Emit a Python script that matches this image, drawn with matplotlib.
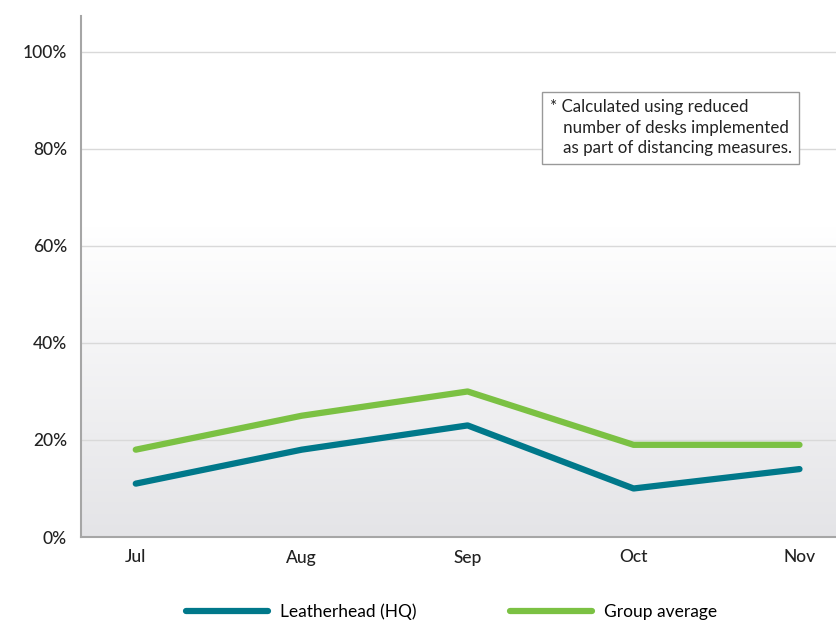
import matplotlib
matplotlib.use('Agg')
import matplotlib.pyplot as plt
import numpy as np

months = ['Jul', 'Aug', 'Sep', 'Oct', 'Nov']
leatherhead = [11, 18, 23, 10, 14]
group_avg = [18, 25, 30, 19, 19]
y_ticks = [0, 20, 40, 60, 80, 100]
note = '* Calculated using reduced\n   number of desks implemented\n   as part of distancing measures.'

plt.rcParams['font.family'] = ['Lato', 'DejaVu Sans']

fig = plt.figure(figsize=(8.36, 6.22), dpi=100)
ax = fig.add_axes([81 / 836, 85 / 622, 1 - 81 / 836, (537 - 16) / 622])

x = np.arange(len(months))
ax.set_xlim(-0.33, 4.22)
ax.set_ylim(0, 107.4)

# soft grey gradient at the bottom of the plot area
grad = np.linspace(0, 1, 256).reshape(-1, 1)
cmap = matplotlib.colors.LinearSegmentedColormap.from_list('g', ['#ffffff', '#e4e4e7'])
ax.imshow(grad, extent=(-0.33, 4.22, 0, 64), aspect='auto', cmap=cmap,
          vmin=0, vmax=1, origin='upper', zorder=0)

for y in y_ticks[1:]:
    ax.axhline(y, color='#d9d9d9', lw=1, zorder=1)

ax.plot(x, leatherhead, color='#00788a', lw=4.5, solid_capstyle='round',
        solid_joinstyle='round', label='Leatherhead (HQ)', zorder=3)
ax.plot(x, group_avg, color='#7bc143', lw=4.5, solid_capstyle='round',
        solid_joinstyle='round', label='Group average', zorder=3)

ax.set_xticks(x)
ax.set_xticklabels(months)
ax.set_yticks(y_ticks)
ax.set_yticklabels([f'{v}%' for v in y_ticks])
ax.tick_params(length=0, labelsize=12.5, colors='#222222')
ax.tick_params(axis='x', pad=9)
ax.tick_params(axis='y', pad=10)
for lbl in ax.get_xticklabels() + ax.get_yticklabels():
    lbl.set_fontweight('medium')

for s in ['top', 'right']:
    ax.spines[s].set_visible(False)
for s in ['left', 'bottom']:
    ax.spines[s].set_color('#a6a6a6')
    ax.spines[s].set_linewidth(1.5)

ax.text(0.621, 0.84, note, transform=ax.transAxes, fontsize=12.2,
        va='top', ha='left', color='#222222', linespacing=1.33,
        bbox=dict(boxstyle='square,pad=0.45', fc='white', ec='#999999', lw=1))

fig.legend(loc='center', bbox_to_anchor=(0.54, 0.016), ncol=2, frameon=False,
           fontsize=12.5, handlelength=4.7, columnspacing=5.4, handletextpad=0.7)

fig.savefig('out.png', dpi=100)
